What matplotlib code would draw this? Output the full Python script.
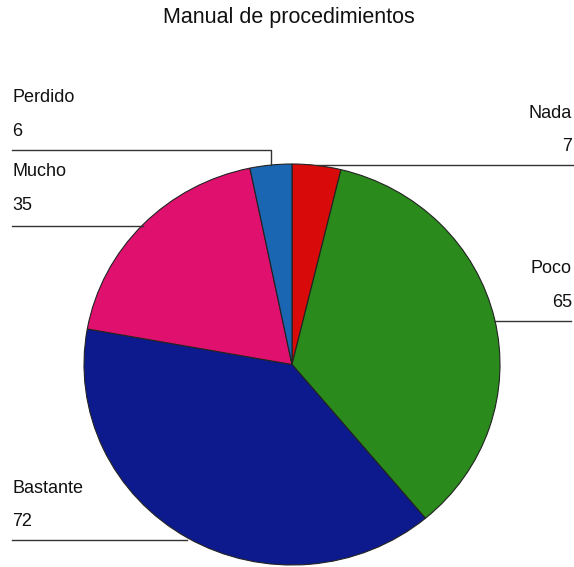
import numpy as np
import matplotlib
matplotlib.use("Agg")
import matplotlib.pyplot as plt

plt.rcParams['font.family'] = ['Liberation Sans', 'DejaVu Sans']

# datos
categorias = ['Nada', 'Poco', 'Bastante', 'Mucho', 'Perdido']
valores = [7, 65, 72, 35, 6]
colores = ['#d80a0a', '#2a8a1c', '#0d1a8e', '#e0106e', '#1a66b2']
titulo = 'Manual de procedimientos'

W, H = 574, 567
fig = plt.figure(figsize=(W / 100, H / 100), dpi=100)

# caja del pie en pixeles (ligeramente eliptico como el original)
px0, px1 = 84, 500
py0, py1 = 164, 565
cx, cy = (px0 + px1) / 2, (py0 + py1) / 2
rx, ry = (px1 - px0) / 2, (py1 - py0) / 2

ax = fig.add_axes([px0 / W, 1 - py1 / H, (px1 - px0) / W, (py1 - py0) / H])
wedges, _ = ax.pie(valores, colors=colores, startangle=90, counterclock=False,
                   wedgeprops=dict(edgecolor='#222222', linewidth=0.8))
ax.set_aspect('auto')
ax.set_xlim(-1, 1)
ax.set_ylim(-1, 1)
ax.axis('off')

# capa de texto en coordenadas de pixel
ov = fig.add_axes([0, 0, 1, 1], zorder=5)
ov.set_xlim(0, W)
ov.set_ylim(H, 0)
ov.axis('off')
ov.patch.set_alpha(0)

ov.text(289, 18, titulo, ha='center', va='center', fontsize=15.5, color='#111111')

def borde(i):
    w = wedges[i]
    ang = np.deg2rad((w.theta1 + w.theta2) / 2)
    return cx + rx * np.cos(ang), cy - ry * np.sin(ang)

lc = '#333333'
tc = '#111111'
fs = 13
# Nada (derecha)
x, y = borde(0)
ov.plot([x, 573], [y, y], color=lc, lw=1)
ov.text(572, y - 52, categorias[0], ha='right', va='center', fontsize=fs, color=tc)
ov.text(572, y - 19, str(valores[0]), ha='right', va='center', fontsize=fs, color=tc)
# Poco (derecha)
x, y = borde(1)
ov.plot([x, 571], [y + 2, y + 2], color=lc, lw=1)
ov.text(572, y - 50, categorias[1], ha='right', va='center', fontsize=fs, color=tc)
ov.text(572, y - 16, str(valores[1]), ha='right', va='center', fontsize=fs, color=tc)
# Bastante (izquierda)
x, y = borde(2)
ov.plot([12, x], [y + 2, y + 2], color=lc, lw=1)
ov.text(12, y - 49, categorias[2], ha='left', va='center', fontsize=fs, color=tc)
ov.text(12, y - 16, str(valores[2]), ha='left', va='center', fontsize=fs, color=tc)
# Mucho (izquierda)
x, y = borde(3)
ov.plot([12, x], [y + 1, y + 1], color=lc, lw=1)
ov.text(12, y - 53, categorias[3], ha='left', va='center', fontsize=fs, color=tc)
ov.text(12, y - 19, str(valores[3]), ha='left', va='center', fontsize=fs, color=tc)
# Perdido (izquierda, con codo)
x, y = borde(4)
ly = 150
ov.plot([12, x, x], [ly, ly, y], color=lc, lw=1)
ov.text(12, ly - 52, categorias[4], ha='left', va='center', fontsize=fs, color=tc)
ov.text(12, ly - 19, str(valores[4]), ha='left', va='center', fontsize=fs, color=tc)

fig.savefig('out.png', dpi=100, facecolor='white')
